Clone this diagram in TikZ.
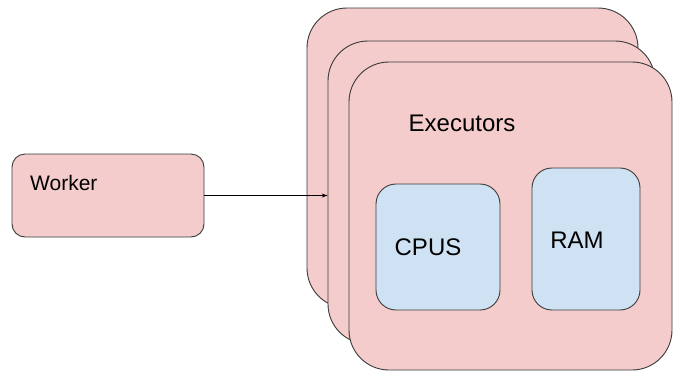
\documentclass[tikz,border=0pt]{standalone}
\usepackage{fontspec}
\setmainfont{Liberation Sans}
\usetikzlibrary{arrows.meta}
\definecolor{boxpink}{HTML}{F4CCCC}
\definecolor{boxblue}{HTML}{CFE2F3}
\definecolor{edge}{HTML}{3A3A3A}
\tikzset{
  panel/.style={draw=edge, line width=0.9pt, fill=boxpink, rounded corners=40pt,
                inner sep=0pt, minimum width=#1},
  part/.style={draw=edge, line width=0.9pt, fill=boxblue, rounded corners=20pt,
               inner sep=0pt},
  caption/.style={inner sep=0pt, font=\fontsize{24}{28}\selectfont},
  link/.style={-{Stealth[length=6pt,width=4pt]}, line width=0.8pt, black}
}
\begin{document}
\begin{tikzpicture}[x=1pt,y=-1pt]
  \useasboundingbox (0,0) rectangle (675,373);
  % worker
  \node[draw=edge, line width=0.9pt, fill=boxpink, rounded corners=13pt, inner sep=0pt,
        minimum width=192pt, minimum height=83pt] (worker) at (108,195.5) {};
  \node[inner sep=0pt, anchor=west, font=\fontsize{21}{25}\selectfont] (workerlbl) at (30,183) {Worker};
  % stacked executors
  \node[panel=331pt, minimum height=300pt] (back) at (472.5,158) {};
  \node[panel=327pt, minimum height=303pt] (mid) at (491.5,192.5) {};
  \node[panel=323pt, minimum height=308pt] (front) at (510.5,216) {};
  \node[caption] (execlbl) at (462,123) {Executors};
  % resources
  \node[part, minimum width=124pt, minimum height=126pt] (cpu) at (438,247) {};
  \node[caption] (cpulbl) at (428,247) {CPUS};
  \node[part, minimum width=108pt, minimum height=142pt] (ram) at (586,239) {};
  \node[caption] (ramlbl) at (577,240) {RAM};
  % connector
  \draw[link] (worker.east) -- (worker.east -| mid.west);
\end{tikzpicture}
\end{document}
